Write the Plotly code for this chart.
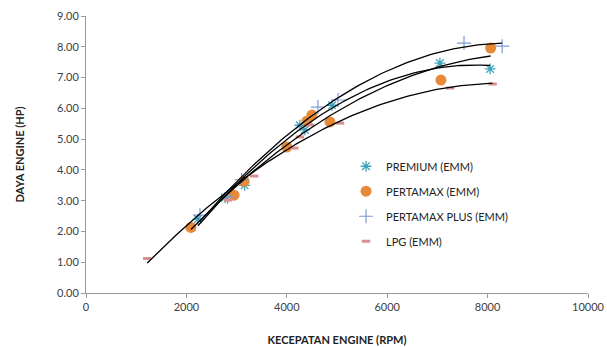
import numpy as np
import plotly.graph_objects as go

# Data
premium_rpm = [2230, 2770, 3160, 4260, 4360, 4900, 7050, 8050]
premium_hp = [2.40, 3.10, 3.50, 5.45, 5.30, 6.10, 7.47, 7.28]

pertamax_rpm = [2090, 2950, 3150, 4000, 4400, 4500, 4860, 7070, 8060]
pertamax_hp = [2.13, 3.18, 3.63, 4.74, 5.58, 5.78, 5.56, 6.92, 7.96]

pplus_rpm = [2270, 2820, 3100, 4620, 5020, 7530, 8290]
pplus_hp = [2.53, 3.12, 3.68, 6.04, 6.27, 8.12, 8.02]

lpg_rpm = [1220, 2830, 3350, 4150, 4260, 4460, 5060, 7250, 8100]
lpg_hp = [1.12, 3.02, 3.80, 4.71, 5.07, 5.46, 5.52, 6.66, 6.79]

x_ticks = [0, 2000, 4000, 6000, 8000, 10000]
y_ticks = [0, 1, 2, 3, 4, 5, 6, 7, 8, 9]

series = [
    ("PREMIUM (EMM)", premium_rpm, premium_hp,
     dict(symbol="asterisk-open", size=9, color="#3FA3BD", line=dict(width=1.3, color="#3FA3BD"))),
    ("PERTAMAX (EMM)", pertamax_rpm, pertamax_hp,
     dict(symbol="circle", size=11, color="#E68A3A")),
    ("PERTAMAX PLUS (EMM)", pplus_rpm, pplus_hp,
     dict(symbol="cross-thin-open", size=10, color="#7D9BD6", line=dict(width=1.2, color="#7D9BD6"))),
    ("LPG (EMM)", lpg_rpm, lpg_hp,
     dict(symbol="line-ew-open", size=6, color="#D68F92", line=dict(width=3, color="#D68F92"))),
]

fig = go.Figure()
for i, (name, xs, ys, mk) in enumerate(series):
    fig.add_trace(go.Scatter(x=xs, y=ys, mode="markers", name=name, marker=mk,
                             legendgroup=str(i)))

# Polynomial (order 2) trendlines computed from each series
for name, xs, ys, mk in series:
    c = np.polyfit(xs, ys, 2)
    xx = np.linspace(min(xs), max(xs), 100)
    fig.add_trace(go.Scatter(x=xx, y=np.polyval(c, xx), mode="lines",
                             line=dict(color="black", width=1.3), showlegend=False,
                             hoverinfo="skip"))

font = "Lato, 'Open Sans', sans-serif"
fig.update_layout(
    width=607, height=347,
    margin=dict(l=86, r=19, t=16, b=54),
    paper_bgcolor="white", plot_bgcolor="white",
    font=dict(family=font, size=11, color="#404040"),
    showlegend=True,
    legend=dict(x=0.518, y=0.51, xanchor="left", yanchor="top",
                bgcolor="rgba(0,0,0,0)", font=dict(size=11, color="#222"),
                tracegroupgap=6, itemwidth=30),
    xaxis=dict(range=[0, 10000], tickvals=x_ticks,
               ticktext=[str(v) for v in x_ticks],
               showgrid=False, zeroline=False, showline=True, linecolor="#9a9a9a",
               linewidth=1, ticks="outside", ticklen=4, tickcolor="#9a9a9a",
               automargin=False,
               title=dict(text="<b>KECEPATAN ENGINE (RPM)</b>", font=dict(size=11, color="#222"), standoff=24)),
    yaxis=dict(range=[0, 9], tickvals=y_ticks,
               ticktext=["%.2f" % v for v in y_ticks],
               showgrid=False, zeroline=False, showline=True, linecolor="#9a9a9a",
               linewidth=1, ticks="outside", ticklen=4, tickcolor="#9a9a9a",
               automargin=False,
               title=dict(text="<b>DAYA ENGINE (HP)</b>", font=dict(size=11, color="#222"), standoff=30)),
)
fig.write_html("out.html", config={"displayModeBar": False})

# remove default browser body margin so the figure sits at the page origin
with open("out.html", encoding="utf-8") as f:
    html = f.read()
html = html.replace("<head>", "<head><style>html,body{margin:0;padding:0;}</style>", 1)
with open("out.html", "w", encoding="utf-8") as f:
    f.write(html)
